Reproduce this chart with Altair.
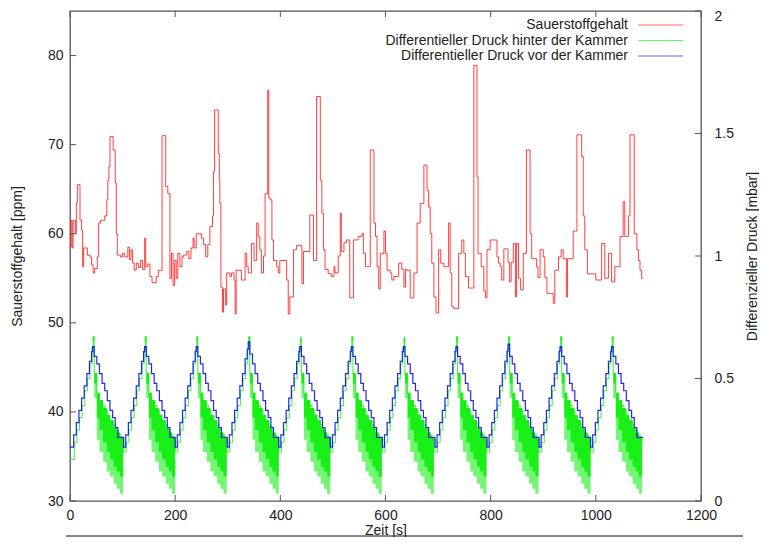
import altair as alt
import pandas as pd

FONT = "Liberation Sans"

# ---------------- data ----------------
# Sauerstoffgehalt [ppm] (step line)
RED_T = [0, 2, 4, 6, 10, 12, 14, 19, 22, 24, 26, 33, 38, 41, 44, 47, 52, 54, 58, 66,
         70, 72, 74, 76, 82, 86, 88, 90, 96, 100, 104, 110, 113, 116, 119, 122, 126, 130, 134, 138,
         142, 144, 148, 152, 156, 164, 168, 175, 182, 186, 190, 193, 196, 199, 202, 205, 209, 213, 216, 222,
         226, 230, 234, 236, 240, 250, 254, 258, 262, 266, 271, 273, 275, 282, 284, 285, 287, 290, 292, 296,
         298, 304, 307, 312, 314, 316, 326, 333, 336, 339, 345, 350, 355, 358, 361, 364, 368, 371, 376, 378,
         381, 384, 387, 393, 396, 399, 412, 415, 418, 425, 431, 441, 444, 456, 463, 469, 476, 479, 482, 485,
         491, 497, 502, 504, 510, 514, 516, 521, 526, 532, 539, 548, 555, 558, 562, 571, 578, 581, 584, 587,
         590, 597, 600, 603, 609, 612, 616, 625, 631, 635, 638, 641, 647, 654, 660, 666, 673, 679, 682, 685,
         688, 692, 696, 701, 705, 711, 720, 723, 726, 730, 739, 745, 749, 752, 758, 768, 774, 776, 782, 787,
         790, 793, 799, 812, 815, 818, 821, 825, 833, 836, 839, 843, 847, 849, 853, 857, 862, 868, 875, 878,
         887, 890, 894, 900, 903, 907, 919, 922, 929, 934, 938, 944, 946, 957, 964, 973, 976, 979, 984, 1000,
         1011, 1017, 1024, 1030, 1036, 1046, 1052, 1055, 1062, 1065, 1073, 1078, 1081, 1084, 1087, 1090]
RED_V = [58.5, 61.5, 58.4, 61.5, 60.0, 63.5, 65.5, 61.5, 60.4, 56.3, 58.4, 57.6, 57.4, 56.5, 55.6, 56.1, 57.4, 61.2, 61.5, 62.0,
         63.8, 66.0, 67.5, 70.9, 69.4, 65.7, 60.0, 57.6, 57.4, 57.8, 57.4, 58.5, 57.1, 58.2, 56.7, 55.9, 56.7, 56.2, 57.0, 56.0,
         59.5, 56.3, 56.6, 55.2, 54.5, 55.2, 55.9, 71.0, 65.3, 64.5, 55.0, 57.8, 54.2, 57.0, 55.0, 57.8, 56.3, 57.4, 57.6, 58.0,
         57.2, 58.4, 59.5, 58.4, 60.0, 59.5, 58.8, 57.4, 58.8, 60.8, 62.0, 67.0, 73.9, 69.0, 66.0, 63.4, 54.0, 51.2, 53.8, 52.0,
         55.6, 55.2, 55.6, 54.8, 51.0, 55.9, 54.8, 57.8, 56.3, 55.6, 58.9, 57.0, 61.2, 59.7, 58.2, 55.6, 57.5, 64.5, 76.1, 64.0,
         63.8, 59.3, 57.0, 56.3, 55.6, 57.0, 54.8, 51.0, 52.9, 58.2, 58.7, 54.4, 58.0, 62.1, 57.0, 75.4, 66.0, 62.3, 58.2, 56.0,
         55.5, 55.2, 56.3, 55.6, 57.5, 62.3, 58.0, 59.0, 59.3, 52.8, 59.3, 59.7, 60.0, 57.8, 56.3, 69.4, 61.2, 59.7, 56.3, 53.8,
         57.8, 60.3, 57.8, 55.9, 55.6, 54.8, 55.2, 56.7, 56.0, 54.0, 56.0, 55.9, 52.8, 55.6, 61.2, 63.4, 67.7, 64.9, 63.0, 60.0,
         56.7, 52.9, 51.1, 58.2, 56.7, 56.3, 61.2, 55.6, 51.8, 51.6, 57.8, 59.3, 57.8, 55.2, 53.9, 78.9, 66.4, 57.8, 56.3, 53.6,
         52.8, 58.2, 59.3, 57.4, 56.7, 56.3, 54.8, 58.3, 56.8, 54.6, 56.8, 58.9, 52.9, 58.9, 55.0, 53.7, 57.8, 69.4, 60.0, 57.2,
         56.3, 55.1, 58.2, 57.4, 55.1, 53.3, 52.2, 55.9, 57.4, 58.2, 57.2, 52.9, 57.2, 60.3, 71.1, 68.7, 62.0, 58.2, 55.5, 54.8,
         58.9, 55.0, 57.8, 54.6, 56.3, 59.7, 63.6, 59.7, 62.0, 71.1, 60.0, 58.2, 57.0, 55.9, 55.0, 55.0]

# Differentieller Druck vor der Kammer [mbar] (step line)
BLUE_T = [0, 7, 12, 17, 22, 27, 32, 37, 41, 43, 46, 51, 56, 61, 66, 71, 76, 81, 86, 91,
          102, 106, 111, 116, 121, 126, 131, 136, 140, 142, 145, 150, 155, 160, 165, 170, 175, 180, 185, 190,
          200, 204, 209, 214, 219, 224, 229, 234, 238, 240, 243, 248, 253, 258, 263, 268, 273, 278, 283, 288,
          299, 303, 308, 313, 318, 323, 328, 333, 337, 339, 342, 347, 352, 357, 362, 367, 372, 377, 382, 387,
          397, 401, 406, 411, 416, 421, 426, 431, 435, 437, 440, 445, 450, 455, 460, 465, 470, 475, 480, 485,
          495, 499, 504, 509, 514, 519, 524, 529, 533, 535, 538, 543, 548, 553, 558, 563, 568, 573, 578, 583,
          594, 598, 603, 608, 613, 618, 623, 628, 632, 634, 637, 642, 647, 652, 657, 662, 667, 672, 677, 682,
          694, 698, 703, 708, 713, 718, 723, 728, 732, 734, 737, 742, 747, 752, 757, 762, 767, 772, 777, 782,
          793, 797, 802, 807, 812, 817, 822, 827, 831, 833, 836, 841, 846, 851, 856, 861, 866, 871, 876, 881,
          892, 896, 901, 906, 911, 916, 921, 926, 930, 932, 935, 940, 945, 950, 955, 960, 965, 970, 975, 980,
          990, 994, 999, 1004, 1009, 1014, 1019, 1024, 1028, 1030, 1033, 1038, 1043, 1048, 1053, 1058, 1063, 1068, 1073, 1078,
          1090]
BLUE_P = [0.22, 0.27, 0.32, 0.37, 0.42, 0.47, 0.52, 0.57, 0.61, 0.63, 0.59, 0.56, 0.52, 0.48, 0.45, 0.41, 0.37, 0.34, 0.30, 0.26,
          0.22, 0.27, 0.32, 0.37, 0.42, 0.47, 0.52, 0.57, 0.61, 0.63, 0.59, 0.56, 0.52, 0.48, 0.45, 0.41, 0.37, 0.34, 0.30, 0.26,
          0.22, 0.27, 0.32, 0.37, 0.42, 0.47, 0.52, 0.57, 0.61, 0.63, 0.59, 0.56, 0.52, 0.48, 0.45, 0.41, 0.37, 0.34, 0.30, 0.26,
          0.22, 0.27, 0.32, 0.37, 0.42, 0.47, 0.52, 0.58, 0.62, 0.65, 0.60, 0.56, 0.52, 0.48, 0.45, 0.41, 0.37, 0.34, 0.30, 0.26,
          0.22, 0.27, 0.32, 0.37, 0.42, 0.47, 0.52, 0.57, 0.61, 0.63, 0.59, 0.56, 0.52, 0.48, 0.45, 0.41, 0.37, 0.34, 0.30, 0.26,
          0.22, 0.27, 0.32, 0.37, 0.42, 0.47, 0.52, 0.57, 0.61, 0.63, 0.59, 0.56, 0.52, 0.48, 0.45, 0.41, 0.37, 0.34, 0.30, 0.26,
          0.22, 0.27, 0.32, 0.37, 0.42, 0.47, 0.52, 0.57, 0.61, 0.63, 0.59, 0.56, 0.52, 0.48, 0.45, 0.41, 0.37, 0.34, 0.30, 0.26,
          0.22, 0.27, 0.32, 0.37, 0.42, 0.47, 0.52, 0.57, 0.61, 0.63, 0.59, 0.56, 0.52, 0.48, 0.45, 0.41, 0.37, 0.34, 0.30, 0.26,
          0.22, 0.27, 0.32, 0.37, 0.42, 0.47, 0.52, 0.57, 0.61, 0.64, 0.59, 0.56, 0.52, 0.48, 0.45, 0.41, 0.37, 0.34, 0.30, 0.26,
          0.22, 0.27, 0.32, 0.37, 0.42, 0.47, 0.52, 0.57, 0.61, 0.63, 0.59, 0.56, 0.52, 0.48, 0.45, 0.41, 0.37, 0.34, 0.30, 0.26,
          0.22, 0.27, 0.32, 0.37, 0.42, 0.47, 0.52, 0.57, 0.61, 0.63, 0.59, 0.56, 0.52, 0.48, 0.45, 0.41, 0.37, 0.34, 0.30, 0.26,
          0.26]

# Differentieller Druck hinter der Kammer [mbar]: upper trace (step line)
GREEN_T = [0, 8, 13, 18, 23, 28, 33, 38, 42, 44, 46, 51, 56, 61, 66, 71, 76, 81, 86, 91, 97,
           102, 107, 112, 117, 122, 127, 132, 137, 141, 143, 145, 150, 155, 160, 165, 170, 175, 180, 185, 190, 196,
           200, 205, 210, 215, 220, 225, 230, 235, 239, 241, 243, 248, 253, 258, 263, 268, 273, 278, 283, 288, 294,
           299, 304, 309, 314, 319, 324, 329, 334, 338, 340, 342, 347, 352, 357, 362, 367, 372, 377, 382, 387, 393,
           397, 402, 407, 412, 417, 422, 427, 432, 436, 438, 440, 445, 450, 455, 460, 465, 470, 475, 480, 485, 491,
           495, 500, 505, 510, 515, 520, 525, 530, 534, 536, 538, 543, 548, 553, 558, 563, 568, 573, 578, 583, 589,
           594, 599, 604, 609, 614, 619, 624, 629, 633, 635, 637, 642, 647, 652, 657, 662, 667, 672, 677, 682, 688,
           694, 699, 704, 709, 714, 719, 724, 729, 733, 735, 737, 742, 747, 752, 757, 762, 767, 772, 777, 782, 788,
           793, 798, 803, 808, 813, 818, 823, 828, 832, 834, 836, 841, 846, 851, 856, 861, 866, 871, 876, 881, 887,
           892, 897, 902, 907, 912, 917, 922, 927, 931, 933, 935, 940, 945, 950, 955, 960, 965, 970, 975, 980, 986,
           990, 995, 1000, 1005, 1010, 1015, 1020, 1025, 1029, 1031, 1033, 1038, 1043, 1048, 1053, 1058, 1063, 1068, 1073, 1078, 1084,
           1090]
GREEN_P = [0.17, 0.24, 0.29, 0.34, 0.39, 0.45, 0.50, 0.56, 0.62, 0.67, 0.52, 0.44, 0.41, 0.39, 0.37, 0.35, 0.33, 0.31, 0.29, 0.27, 0.25,
           0.20, 0.24, 0.29, 0.34, 0.39, 0.45, 0.50, 0.56, 0.62, 0.67, 0.52, 0.44, 0.41, 0.39, 0.37, 0.35, 0.33, 0.31, 0.29, 0.27, 0.25,
           0.20, 0.24, 0.29, 0.34, 0.39, 0.45, 0.50, 0.56, 0.62, 0.67, 0.52, 0.44, 0.41, 0.39, 0.37, 0.35, 0.33, 0.31, 0.29, 0.27, 0.25,
           0.20, 0.24, 0.29, 0.34, 0.39, 0.45, 0.50, 0.56, 0.62, 0.67, 0.52, 0.44, 0.41, 0.39, 0.37, 0.35, 0.33, 0.31, 0.29, 0.27, 0.25,
           0.20, 0.24, 0.29, 0.34, 0.39, 0.45, 0.50, 0.56, 0.62, 0.66, 0.52, 0.44, 0.41, 0.39, 0.37, 0.35, 0.33, 0.31, 0.29, 0.27, 0.25,
           0.20, 0.24, 0.29, 0.34, 0.39, 0.45, 0.50, 0.56, 0.62, 0.67, 0.52, 0.44, 0.41, 0.39, 0.37, 0.35, 0.33, 0.31, 0.29, 0.27, 0.25,
           0.20, 0.24, 0.29, 0.34, 0.39, 0.45, 0.50, 0.56, 0.62, 0.66, 0.52, 0.44, 0.41, 0.39, 0.37, 0.35, 0.33, 0.31, 0.29, 0.27, 0.25,
           0.20, 0.24, 0.29, 0.34, 0.39, 0.45, 0.50, 0.56, 0.62, 0.67, 0.52, 0.44, 0.41, 0.39, 0.37, 0.35, 0.33, 0.31, 0.29, 0.27, 0.25,
           0.20, 0.24, 0.29, 0.34, 0.39, 0.45, 0.50, 0.56, 0.62, 0.67, 0.52, 0.44, 0.41, 0.39, 0.37, 0.35, 0.33, 0.31, 0.29, 0.27, 0.25,
           0.20, 0.24, 0.29, 0.34, 0.39, 0.45, 0.50, 0.56, 0.62, 0.67, 0.52, 0.44, 0.41, 0.39, 0.37, 0.35, 0.33, 0.31, 0.29, 0.27, 0.25,
           0.20, 0.24, 0.29, 0.34, 0.39, 0.45, 0.50, 0.56, 0.62, 0.67, 0.52, 0.44, 0.41, 0.39, 0.37, 0.35, 0.33, 0.31, 0.29, 0.27, 0.25,
           0.25]

# Differentieller Druck hinter der Kammer: fast oscillation band after each peak
BAND_CYCLE = [1] * 11 + [2] * 11 + [3] * 11 + [4] * 11 + [5] * 11 + [6] * 11 + \
             [7] * 11 + [8] * 11 + [9] * 11 + [10] * 11 + [11] * 11
BAND_T = [44, 46, 51, 56, 63, 70, 76, 83, 89, 95, 101,
          143, 145, 150, 155, 162, 169, 175, 182, 188, 194, 200,
          241, 243, 248, 253, 260, 267, 273, 280, 286, 292, 298,
          340, 342, 347, 352, 359, 366, 372, 379, 385, 391, 397,
          438, 440, 445, 450, 457, 464, 470, 477, 483, 489, 495,
          536, 538, 543, 548, 555, 562, 568, 575, 581, 587, 593,
          635, 637, 642, 647, 654, 661, 667, 674, 680, 686, 692,
          735, 737, 742, 747, 754, 761, 767, 774, 780, 786, 792,
          834, 836, 841, 846, 853, 860, 866, 873, 879, 885, 891,
          933, 935, 940, 945, 952, 959, 965, 972, 978, 984, 990,
          1031, 1033, 1038, 1043, 1050, 1057, 1063, 1070, 1076, 1082, 1088]
BAND_TOP = [0.67, 0.52, 0.44, 0.41, 0.38, 0.35, 0.33, 0.30, 0.28, 0.26, 0.24] * 11
BAND_MID = [0.66, 0.48, 0.34, 0.29, 0.24, 0.20, 0.17, 0.14, 0.12, 0.10, 0.08] * 11
BAND_LOW = [0.65, 0.42, 0.25, 0.20, 0.16, 0.12, 0.10, 0.07, 0.05, 0.03, 0.00] * 11

X_TICKS = [0, 200, 400, 600, 800, 1000, 1200]
Y_LEFT_TICKS = [30, 40, 50, 60, 70, 80]
Y_RIGHT_TICKS = [0, 0.5, 1, 1.5, 2]

LEGEND_LABELS = ["Sauerstoffgehalt",
                 "Differentieller Druck hinter der Kammer",
                 "Differentieller Druck vor der Kammer"]
LEGEND_ROW = [0, 1, 2]
COLORS = ["#ff0000", "#00ee00", "#0000ee"]

# ---------------- frames ----------------
red_df = pd.DataFrame({"t": RED_T, "v": RED_V})
blue_df = pd.DataFrame({"t": BLUE_T, "p": BLUE_P})
green_df = pd.DataFrame({"t": GREEN_T, "p": GREEN_P})
band_df = pd.DataFrame({"cyc": BAND_CYCLE, "t": BAND_T, "top": BAND_TOP,
                        "mid": BAND_MID, "low": BAND_LOW})
xt_df = pd.DataFrame({"t": X_TICKS})
yl_df = pd.DataFrame({"v": Y_LEFT_TICKS})
yr_df = pd.DataFrame({"p": Y_RIGHT_TICKS})
leg_df = pd.DataFrame({"label": LEGEND_LABELS, "row": LEGEND_ROW})

W, H = 631, 490
FRAME = "#555555"
TXT = "#222222"

AX_X = alt.Axis(values=X_TICKS, format="d", title="Zeit [s]", labelPadding=7, labelFlush=False,
                labelOverlap=False, titleY=29, titleBaseline="middle")
AX_L = alt.Axis(values=Y_LEFT_TICKS, format="d", title="Sauerstoffgehalt [ppm]", labelPadding=7,
                labelOverlap=False, titleX=-53, titleY=H / 2, titleAngle=270,
                titleBaseline="middle")
AX_R = alt.Axis(orient="right", values=Y_RIGHT_TICKS, format="~g",
                title="Differenzieller Druck [mbar]", labelPadding=13, labelOverlap=False,
                labelOffset={"condition": {"test": "datum.value >= 2", "value": 5}, "value": 0},
                titleX=51, titleY=H / 2, titleAngle=270, titleBaseline="middle")

SX = alt.Scale(domain=[0, 1200], nice=False, zero=False)
SL = alt.Scale(domain=[30, 85], nice=False, zero=False)
SR = alt.Scale(domain=[0, 2], nice=False, zero=False)


def xenc(field="t"):
    return alt.X(f"{field}:Q", scale=SX, axis=AX_X)


def yl(field):
    return alt.Y(f"{field}:Q", scale=SL, axis=AX_L)


def yr(field):
    return alt.Y(f"{field}:Q", scale=SR, axis=AX_R)


red = alt.Chart(red_df).mark_line(interpolate="step-after", color=COLORS[0],
                                  strokeWidth=1, opacity=0.75).encode(x=xenc(), y=yl("v"))
yl_ticks = alt.Chart(yl_df).mark_rule(color=FRAME, strokeWidth=1).encode(
    y=yl("v"), x=alt.value(0), x2=alt.value(6))
left_group = alt.layer(red, yl_ticks)

band_outer = alt.Chart(band_df).mark_area(color=COLORS[1], opacity=0.55,
                                          interpolate="step-after").encode(
    x=xenc(), y=yr("low"), y2="top:Q", detail="cyc:N")
band_core = alt.Chart(band_df).mark_area(color=COLORS[1], opacity=0.8,
                                         interpolate="step-after").encode(
    x=xenc(), y=yr("mid"), y2="top:Q", detail="cyc:N")
green = alt.Chart(green_df).mark_line(interpolate="step-after", color=COLORS[1],
                                      strokeWidth=1.1, opacity=0.7).encode(x=xenc(), y=yr("p"))
blue = alt.Chart(blue_df).mark_line(interpolate="step-after", color=COLORS[2],
                                    strokeWidth=1.2, opacity=0.85).encode(x=xenc(), y=yr("p"))
yr_ticks = alt.Chart(yr_df).mark_rule(color=FRAME, strokeWidth=1).encode(
    y=yr("p"), x=alt.value(W), x2=alt.value(W - 6))
right_group = alt.layer(band_outer, band_core, green, blue, yr_ticks)

xt_bottom = alt.Chart(xt_df).mark_rule(color=FRAME, strokeWidth=1).encode(
    x=xenc(), y=alt.value(H), y2=alt.value(H - 6))
xt_top = alt.Chart(xt_df).mark_rule(color=FRAME, strokeWidth=1).encode(
    x=xenc(), y=alt.value(0), y2=alt.value(6))

leg_y = alt.Y("row:Q", scale=alt.Scale(domain=[0, 2], range=[14, 45]), axis=None)
leg_color = alt.Color("label:N", scale=alt.Scale(domain=LEGEND_LABELS, range=COLORS), legend=None)
leg_text = alt.Chart(leg_df).mark_text(align="right", baseline="middle", font=FONT,
                                       fontSize=14, color=TXT).encode(
    x=alt.value(558), y=leg_y, text="label:N")
leg_line = alt.Chart(leg_df).mark_rule(strokeWidth=1, opacity=0.6).encode(
    x=alt.value(568), x2=alt.value(613), y=leg_y, color=leg_color)
legend = alt.layer(leg_text, leg_line)

base_line = alt.Chart(pd.DataFrame({"k": [0]})).mark_rule(color="#111111", strokeWidth=1).encode(
    x=alt.value(-4), x2=alt.value(673), y=alt.value(525))

chart = alt.layer(left_group, right_group, xt_bottom, xt_top, legend, base_line).resolve_scale(
    y="independent"
).properties(
    width=W, height=H,
    autosize=alt.AutoSizeParams(type="none"),
    padding={"left": 62, "top": 3, "right": 58, "bottom": 36},
).configure_view(
    stroke=FRAME, strokeWidth=1.3
).configure_axis(
    grid=False, domain=False, ticks=False,
    labelFont=FONT, labelFontSize=14, labelColor=TXT,
    titleFont=FONT, titleFontSize=14, titleFontWeight="normal", titleColor=TXT,
)

chart.save("out.html", embed_options={"renderer": "svg", "actions": False})
